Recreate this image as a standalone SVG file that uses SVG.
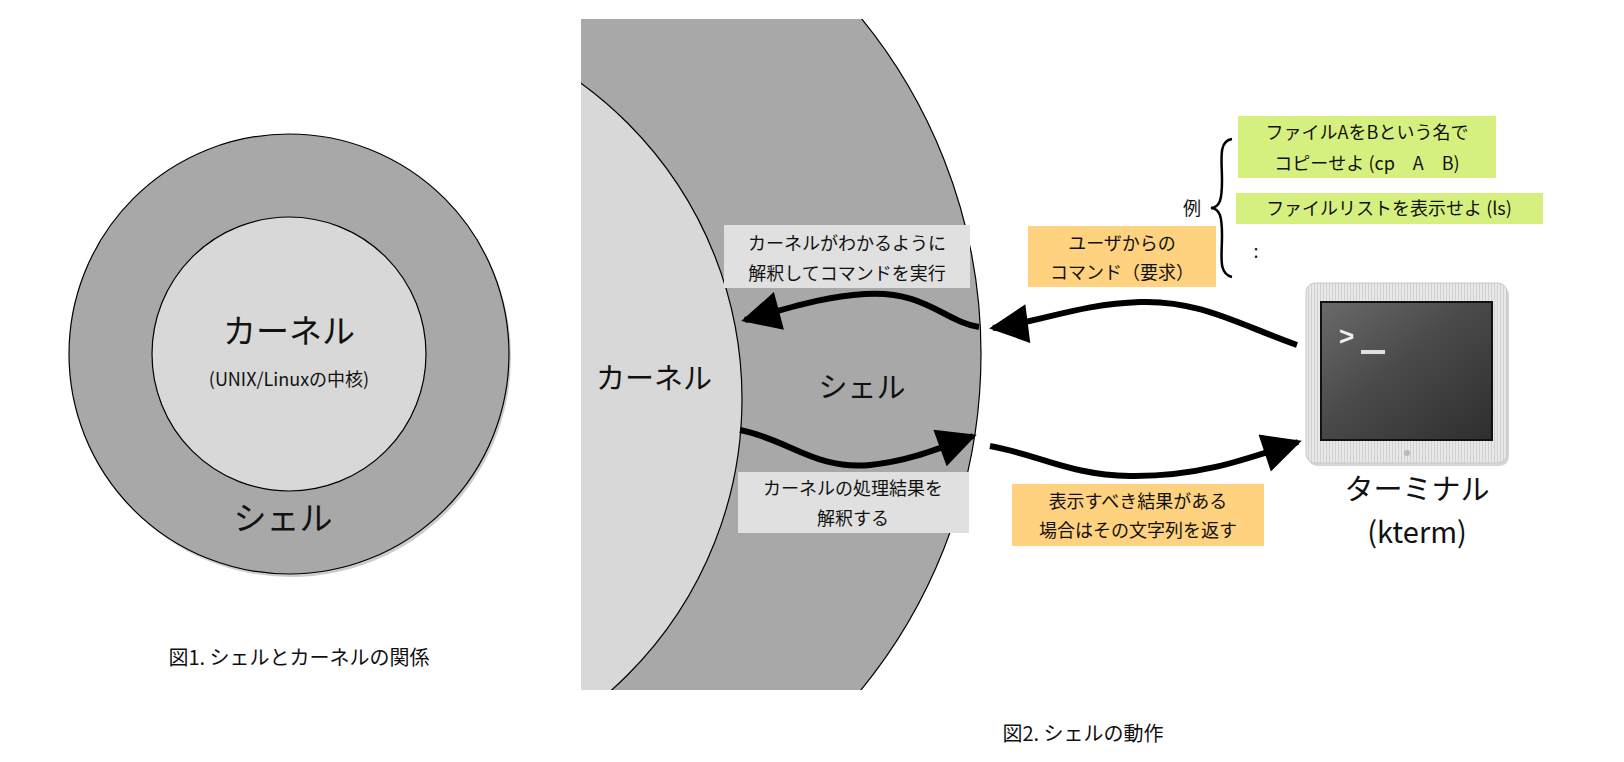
<svg xmlns="http://www.w3.org/2000/svg" width="1624" height="762" viewBox="0 0 1624 762">
<style>
text{font-family:"Noto Sans CJK JP","Liberation Sans",sans-serif;fill:#111;text-anchor:middle}
.s{font-size:18px}
.big{font-size:33px}
.mid{font-size:29px}
.cap{font-size:20px}
.ln{fill:none;stroke:#000;stroke-width:6}
</style>
<defs>
<marker id="ah" viewBox="0 0 10 10" refX="9" refY="5" markerWidth="8" markerHeight="6.5" markerUnits="strokeWidth" orient="auto"><path d="M0,0L10,5L0,10z" fill="#000"/></marker>
<clipPath id="cp"><rect x="581" y="19" width="460" height="671"/></clipPath>
<linearGradient id="scr" x1="0" y1="0" x2="1" y2="1"><stop offset="0" stop-color="#6a6a6a"/><stop offset="0.45" stop-color="#4a4a4a"/><stop offset="1" stop-color="#2e2e2e"/></linearGradient>
<pattern id="str" width="3" height="3" patternUnits="userSpaceOnUse"><rect width="3" height="3" fill="#e8e8e8"/><rect width="1" height="3" fill="#d0d0d0"/></pattern>
</defs>
<rect width="1624" height="762" fill="#fff"/>
<g id="fig1">
<circle cx="291" cy="357" r="220" fill="#555" opacity="0.3"/>
<circle cx="289" cy="354" r="220" fill="#a8a8a8" stroke="#000" stroke-width="1.2"/>
<circle cx="289" cy="354" r="137" fill="#d8d8d8" stroke="#000" stroke-width="1.2"/>
<text x="289" y="343" class="big">カーネル</text>
<text x="289" y="386" style="font-size:18px">(UNIX/Linuxの中核)</text>
<text x="283" y="530" class="big">シェル</text>
<text x="299" y="665" class="cap">図1. シェルとカーネルの関係</text>
</g>
<g id="fig2-shell" clip-path="url(#cp)">
<circle cx="451" cy="354" r="530" fill="#a8a8a8" stroke="#000" stroke-width="1.2"/>
<circle cx="352" cy="399" r="390" fill="#d8d8d8" stroke="#000" stroke-width="1.2"/>
</g>
<g id="labels">
<text x="654" y="389" class="mid">カーネル</text>
<text x="862" y="398" class="mid">シェル</text>
</g>
<g id="box-exec"><rect x="724" y="225" width="246" height="63" fill="#e0e0e0"/><text x="847" y="250" class="s">カーネルがわかるように</text><text x="847" y="280" class="s">解釈してコマンドを実行</text></g>
<g id="box-result"><rect x="738" y="472" width="231" height="61" fill="#e0e0e0"/><text x="853" y="495" class="s">カーネルの処理結果を</text><text x="853" y="525" class="s">解釈する</text></g>
<g id="box-cmd"><rect x="1028" y="226" width="188" height="61" fill="#ffd27f"/><text x="1122" y="250" class="s">ユーザからの</text><text x="1122" y="279" class="s">コマンド（要求）</text></g>
<g id="box-ret"><rect x="1012" y="484" width="252" height="62" fill="#ffd27f"/><text x="1138" y="508" class="s">表示すべき結果がある</text><text x="1138" y="537" class="s">場合はその文字列を返す</text></g>
<g id="examples">
<rect x="1238" y="116" width="258" height="62" fill="#d6f07f"/>
<text x="1367" y="139" class="s">ファイルAをBという名で</text>
<text x="1367" y="170" class="s">コピーせよ (cp　A　B)</text>
<rect x="1236" y="193" width="307" height="31" fill="#d6f07f"/>
<text x="1389" y="215" class="s">ファイルリストを表示せよ (ls)</text>
<text x="1192" y="215" class="s">例</text>
<path d="M1232,139 C1218,141 1222,160 1222,180 C1222,200 1220,207 1211,208 C1220,209 1222,216 1222,236 C1222,256 1218,274 1232,277" fill="none" stroke="#000" stroke-width="2.5"/>
<text x="1256" y="258" class="s">:</text>
</g>
<g id="terminal">
<rect x="1308" y="286" width="201" height="180" rx="9" fill="#999" opacity="0.4"/>
<rect x="1306" y="283" width="201" height="180" rx="9" fill="url(#str)" stroke="#c8c8c8"/>
<rect x="1321" y="302" width="171" height="138" fill="url(#scr)" stroke="#111" stroke-width="2"/>
<text x="1339" y="345" style="font-size:26px;fill:#eee;font-family:'Liberation Sans',sans-serif;font-weight:bold;text-anchor:start">&gt;</text>
<rect x="1361" y="350" width="24" height="4" fill="#e0e0e0"/>
<circle cx="1407" cy="453" r="3" fill="#bbb"/>
<text x="1417" y="500" class="mid">ターミナル</text>
<text x="1417" y="543" class="mid">(kterm)</text>
</g>
<g id="connectors">
<path class="ln" marker-end="url(#ah)" d="M979,327 C945,322 925,290 865,294 C820,297 790,308 745,320"/>
<path class="ln" marker-end="url(#ah)" d="M740,430 C790,440 815,470 870,465 C910,461 940,448 973,436"/>
<path class="ln" marker-end="url(#ah)" d="M1297,345 C1240,325 1200,300 1140,302 C1080,304 1040,322 993,328"/>
<path class="ln" marker-end="url(#ah)" d="M990,446 C1040,455 1070,475 1130,476 C1200,477 1250,458 1298,442"/>
</g>
<text x="1083" y="741" class="cap">図2. シェルの動作</text>
</svg>
